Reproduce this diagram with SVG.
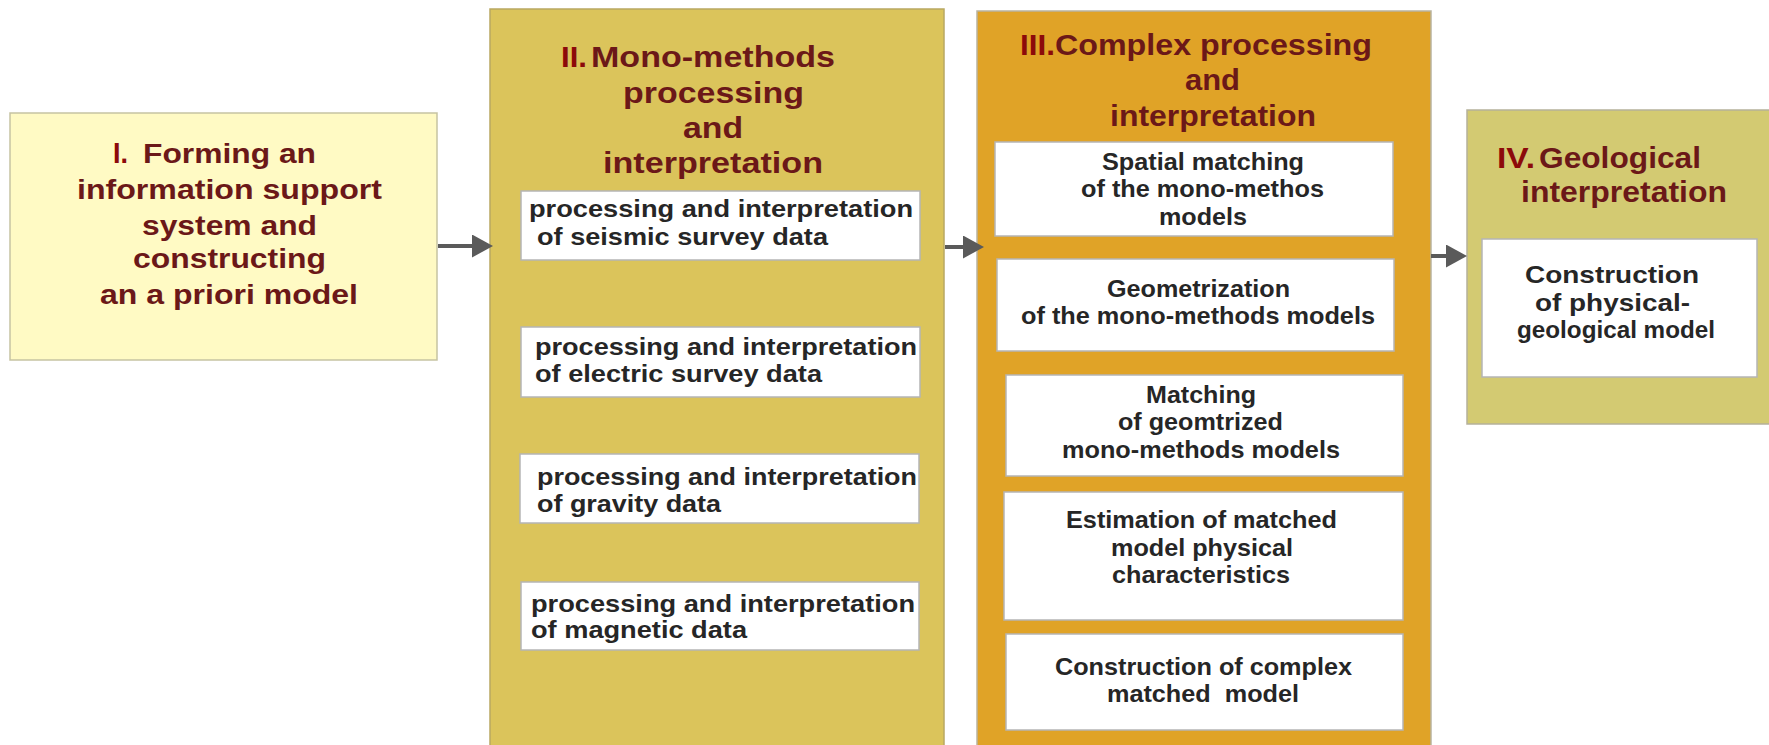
<svg xmlns="http://www.w3.org/2000/svg" width="1769" height="745" viewBox="0 0 1769 745">
<defs>
<marker id="ah" markerUnits="userSpaceOnUse" markerWidth="22" markerHeight="24" refX="0" refY="11.5" orient="auto">
<path d="M0,0 L21,11.5 L0,23 Z" fill="#5a5a5a"/>
</marker>
</defs>
<style>
.t{font-family:"Liberation Sans",Arial,sans-serif;font-weight:bold;fill:#6b1818;font-size:29px}
.t1{font-size:27px}
.n{font-family:"Liberation Sans",Arial,sans-serif;font-weight:bold;fill:#8c0a0a;font-size:29px}
.b{font-family:"Liberation Sans",Arial,sans-serif;font-weight:bold;fill:#262626;font-size:24px}
.w{fill:#ffffff;stroke:#b5b5b5;stroke-width:1.5}
.c{stroke:#5a5a5a;stroke-width:4;fill:none}
</style>
<rect width="1769" height="745" fill="#ffffff"/>

<g id="stage1">
<rect x="10" y="113" width="427" height="247" fill="#fffac4" stroke="#c6c3a2" stroke-width="1.5"/>
<text class="n t1" x="113" y="163" textLength="15" lengthAdjust="spacingAndGlyphs">I.</text>
<text class="t t1" x="143" y="163" textLength="173" lengthAdjust="spacingAndGlyphs">Forming an</text>
<text class="t t1" x="77" y="199" textLength="305" lengthAdjust="spacingAndGlyphs">information support</text>
<text class="t t1" x="142" y="235" textLength="175" lengthAdjust="spacingAndGlyphs">system and</text>
<text class="t t1" x="133" y="268" textLength="193" lengthAdjust="spacingAndGlyphs">constructing</text>
<text class="t t1" x="100" y="304" textLength="258" lengthAdjust="spacingAndGlyphs">an a priori model</text>
</g>

<g id="stage2">
<rect x="490" y="9" width="454" height="750" fill="#dbc45b" stroke="#b9a862" stroke-width="1.5"/>
<text class="n" x="561" y="67" textLength="26" lengthAdjust="spacingAndGlyphs">II.</text>
<text class="t" x="591" y="67" textLength="244" lengthAdjust="spacingAndGlyphs">Mono-methods</text>
<text class="t" x="623" y="103" textLength="181" lengthAdjust="spacingAndGlyphs">processing</text>
<text class="t" x="683" y="138" textLength="60" lengthAdjust="spacingAndGlyphs">and</text>
<text class="t" x="603" y="173" textLength="220" lengthAdjust="spacingAndGlyphs">interpretation</text>
</g>

<g id="seismic">
<rect class="w" x="521" y="191" width="399" height="69"/>
<text class="b" x="529" y="217" textLength="384" lengthAdjust="spacingAndGlyphs">processing and interpretation</text>
<text class="b" x="537" y="245" textLength="291" lengthAdjust="spacingAndGlyphs">of seismic survey data</text>
</g>
<g id="electric">
<rect class="w" x="521" y="327" width="399" height="70"/>
<text class="b" x="535" y="355" textLength="382" lengthAdjust="spacingAndGlyphs">processing and interpretation</text>
<text class="b" x="535" y="382" textLength="287" lengthAdjust="spacingAndGlyphs">of electric survey data</text>
</g>
<g id="gravity">
<rect class="w" x="520" y="454" width="399" height="69"/>
<text class="b" x="537" y="485" textLength="380" lengthAdjust="spacingAndGlyphs">processing and interpretation</text>
<text class="b" x="537" y="512" textLength="184" lengthAdjust="spacingAndGlyphs">of gravity data</text>
</g>
<g id="magnetic">
<rect class="w" x="521" y="582" width="398" height="68"/>
<text class="b" x="531" y="612" textLength="384" lengthAdjust="spacingAndGlyphs">processing and interpretation</text>
<text class="b" x="531" y="638" textLength="216" lengthAdjust="spacingAndGlyphs">of magnetic data</text>
</g>

<g id="stage3">
<rect x="977" y="11" width="454" height="750" fill="#e0a327" stroke="#b9b4a0" stroke-width="1.5"/>
<text class="n" x="1020" y="55" textLength="35" lengthAdjust="spacingAndGlyphs">III.</text>
<text class="t" x="1055" y="55" textLength="317" lengthAdjust="spacingAndGlyphs">Complex processing</text>
<text class="t" x="1185" y="90" textLength="55" lengthAdjust="spacingAndGlyphs">and</text>
<text class="t" x="1110" y="126" textLength="206" lengthAdjust="spacingAndGlyphs">interpretation</text>
</g>

<g id="spatial">
<rect class="w" x="995" y="142" width="398" height="94"/>
<text class="b" x="1102" y="170" textLength="202" lengthAdjust="spacingAndGlyphs">Spatial matching</text>
<text class="b" x="1081" y="197" textLength="243" lengthAdjust="spacingAndGlyphs">of the mono-methos</text>
<text class="b" x="1159" y="225" textLength="88" lengthAdjust="spacingAndGlyphs">models</text>
</g>
<g id="geometrization">
<rect class="w" x="997" y="259" width="397" height="92"/>
<text class="b" x="1107" y="297" textLength="183" lengthAdjust="spacingAndGlyphs">Geometrization</text>
<text class="b" x="1021" y="324" textLength="354" lengthAdjust="spacingAndGlyphs">of the mono-methods models</text>
</g>
<g id="matching">
<rect class="w" x="1006" y="375" width="397" height="101"/>
<text class="b" x="1146" y="403" textLength="110" lengthAdjust="spacingAndGlyphs">Matching</text>
<text class="b" x="1118" y="430" textLength="165" lengthAdjust="spacingAndGlyphs">of geomtrized</text>
<text class="b" x="1062" y="458" textLength="278" lengthAdjust="spacingAndGlyphs">mono-methods models</text>
</g>
<g id="estimation">
<rect class="w" x="1004" y="492" width="399" height="128"/>
<text class="b" x="1066" y="528" textLength="271" lengthAdjust="spacingAndGlyphs">Estimation of matched</text>
<text class="b" x="1111" y="556" textLength="182" lengthAdjust="spacingAndGlyphs">model physical</text>
<text class="b" x="1112" y="583" textLength="178" lengthAdjust="spacingAndGlyphs">characteristics</text>
</g>
<g id="complex">
<rect class="w" x="1006" y="634" width="397" height="96"/>
<text class="b" x="1055" y="675" textLength="297" lengthAdjust="spacingAndGlyphs">Construction of complex</text>
<text class="b" x="1107" y="702" textLength="192" lengthAdjust="spacingAndGlyphs" xml:space="preserve">matched  model</text>
</g>

<g id="stage4">
<rect x="1467" y="110" width="320" height="314" fill="#d3ca72" stroke="#b5b19a" stroke-width="1.5"/>
<text class="n" x="1497" y="168" textLength="38" lengthAdjust="spacingAndGlyphs">IV.</text>
<text class="t" x="1539" y="168" textLength="162" lengthAdjust="spacingAndGlyphs">Geological</text>
<text class="t" x="1521" y="202" textLength="206" lengthAdjust="spacingAndGlyphs">interpretation</text>
</g>
<g id="physgeo">
<rect class="w" x="1482" y="239" width="275" height="138"/>
<text class="b" x="1525" y="283" textLength="174" lengthAdjust="spacingAndGlyphs">Construction</text>
<text class="b" x="1535" y="311" textLength="155" lengthAdjust="spacingAndGlyphs">of physical-</text>
<text class="b" x="1517" y="338" textLength="198" lengthAdjust="spacingAndGlyphs">geological model</text>
</g>

<g id="connectors">
<line class="c" x1="438" y1="246" x2="472" y2="246" marker-end="url(#ah)"/>
<line class="c" x1="945" y1="247" x2="963" y2="247" marker-end="url(#ah)"/>
<line class="c" x1="1431" y1="256" x2="1446" y2="256" marker-end="url(#ah)"/>
</g>
</svg>
